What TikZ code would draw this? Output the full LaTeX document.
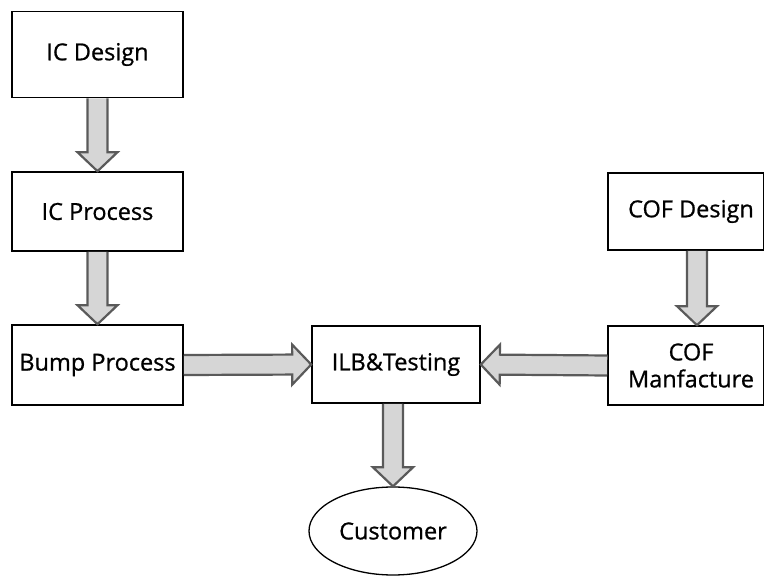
\documentclass[tikz,border=0pt]{standalone}
\usepackage{fontspec}
\setmainfont{Open Sans}
\newfontface\stagefont{Open Sans}[FakeBold=0.8]
\usepackage{tikz}
\usetikzlibrary{calc}
\usetikzlibrary{shapes.geometric}
\usetikzlibrary{positioning}

\definecolor{arrowline}{RGB}{90,90,90}
\definecolor{arrowfill}{RGB}{214,214,214}

% block arrow from #1 to the tip #2
\newcommand{\blockarrow}[2]{%
  \coordinate (hb) at ($(#2)!19pt!(#1)$);
  \path[fatarrow]
    ($(#1)!10pt!90:(#2)$) -- ($(hb)!10pt!90:(#2)$) -- ($(hb)!20pt!90:(#2)$)
    -- (#2) -- ($(hb)!20pt!-90:(#2)$) -- ($(hb)!10pt!-90:(#2)$)
    -- ($(#1)!10pt!-90:(#2)$);
}

\begin{document}
\begin{tikzpicture}[x=1pt, y=-1pt]
    \tikzstyle{stage}=[draw=black, line width=1.6pt, rectangle, inner sep=0pt,
      font=\stagefont\fontsize{23.5}{27}\selectfont, align=center]
    \tikzstyle{fatarrow}=[draw=arrowline, fill=arrowfill, line width=2.2pt, line join=miter]
    \useasboundingbox (0,0) rectangle (764,577);
    \node[stage, minimum width=171pt, minimum height=86pt] (icd) at (97.5,54.5) {IC Design};
    \node[stage, minimum width=171pt, minimum height=79pt] (icp) at (97.5,211.5) {IC Process};
    \node[stage, minimum width=171pt, minimum height=80pt] (bump) at (97.5,365) {Bump Process};
    \node[stage, minimum width=168pt, minimum height=77pt] (ilb) at (396,364.5) {ILB\&Testing};
    \node[stage, minimum width=156pt, minimum height=77pt] (cofd) at (686,211.5) {\hspace*{10pt}COF Design};
    \node[stage, minimum width=156pt, minimum height=79pt] (cofm) at (686,365.5) {\hspace*{10pt}COF\\\hspace*{10pt}Manfacture};
    \node[stage, ellipse, line width=1.3pt, minimum width=168pt, minimum height=88pt] (cust) at (393,531) {Customer};
    % flow
    \blockarrow{icd.south}{icp.north}
    \blockarrow{icp.south}{bump.north}
    \blockarrow{[xshift=11pt]cofd.south}{[xshift=11pt]cofm.north}
    \blockarrow{bump.east}{ilb.west}
    \blockarrow{cofm.west}{ilb.east}
    \blockarrow{[xshift=-3pt]ilb.south}{cust.north}
\end{tikzpicture}
\end{document}
